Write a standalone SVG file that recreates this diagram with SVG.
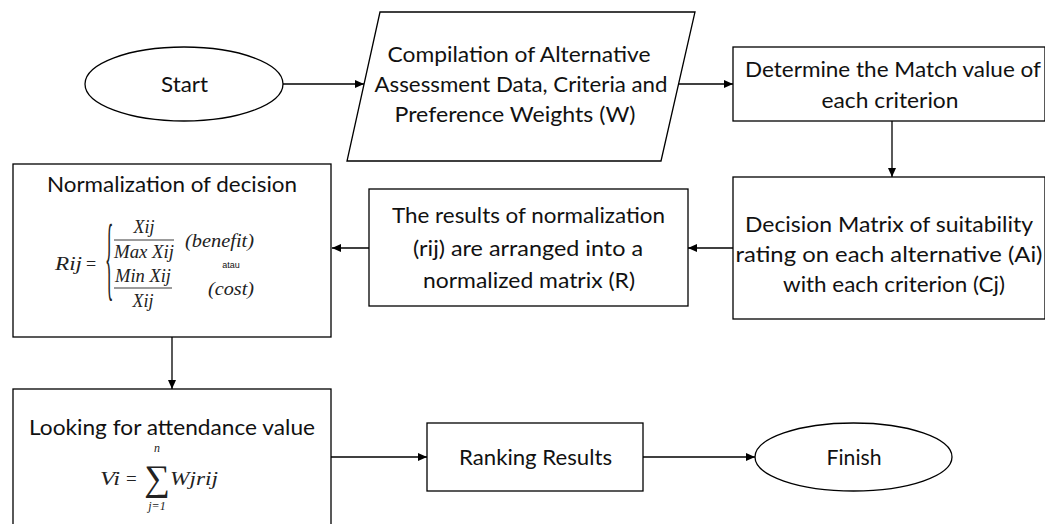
<svg xmlns="http://www.w3.org/2000/svg" width="1045" height="524" viewBox="0 0 1045 524">
<defs>
<marker id="arr" markerUnits="userSpaceOnUse" markerWidth="10" markerHeight="9" refX="9" refY="4" orient="auto">
<path d="M0,0 L9,4 L0,8 z" fill="#000"/>
</marker>
<style>
.shape{fill:#fff;stroke:#000;stroke-width:1.3}
.lbl{font-family:Lato,"Liberation Sans",sans-serif;font-size:22px;fill:#111;text-anchor:middle}
.m{font-family:"Liberation Serif","DejaVu Serif",serif;font-style:italic;font-size:18px;fill:#222}
.mu{font-family:"Liberation Serif","DejaVu Serif",serif;font-size:18px;fill:#222}
.fr{stroke:#222;stroke-width:0.9}
.conn path{fill:none;stroke:#000;stroke-width:1.3;marker-end:url(#arr)}
</style>
</defs>
<rect width="1045" height="524" fill="#fff"/>

<g id="start">
<ellipse class="shape" cx="184" cy="84" rx="99" ry="37"/>
<text class="lbl" x="184.5" y="92" textLength="47" lengthAdjust="spacingAndGlyphs">Start</text>
</g>

<g id="compilation">
<polygon class="shape" points="380,12 695,12 661,161 347,161"/>
<text class="lbl" x="519" y="62" textLength="263" lengthAdjust="spacingAndGlyphs">Compilation of Alternative</text>
<text class="lbl" x="521" y="92" textLength="293" lengthAdjust="spacingAndGlyphs">Assessment Data, Criteria and</text>
<text class="lbl" x="515" y="122" textLength="241" lengthAdjust="spacingAndGlyphs">Preference Weights (W)</text>
</g>

<g id="determine">
<rect class="shape" x="733" y="47" width="312" height="74"/>
<text class="lbl" x="893" y="77" textLength="296" lengthAdjust="spacingAndGlyphs">Determine the Match value of</text>
<text class="lbl" x="890" y="108" textLength="137" lengthAdjust="spacingAndGlyphs">each criterion</text>
</g>

<g id="decision">
<rect class="shape" x="733" y="177" width="312" height="142"/>
<text class="lbl" x="889" y="232" textLength="288" lengthAdjust="spacingAndGlyphs">Decision Matrix of suitability</text>
<text class="lbl" x="889" y="262" textLength="307" lengthAdjust="spacingAndGlyphs">rating on each alternative (Ai)</text>
<text class="lbl" x="894" y="292" textLength="222" lengthAdjust="spacingAndGlyphs">with each criterion (Cj)</text>
</g>

<g id="results">
<rect class="shape" x="369" y="189" width="319" height="117"/>
<text class="lbl" x="528.5" y="223" textLength="273" lengthAdjust="spacingAndGlyphs">The results of normalization</text>
<text class="lbl" x="528" y="256" textLength="230" lengthAdjust="spacingAndGlyphs">(rij) are arranged into a</text>
<text class="lbl" x="529" y="288" textLength="212" lengthAdjust="spacingAndGlyphs">normalized matrix (R)</text>
</g>

<g id="normalization">
<rect class="shape" x="13" y="164" width="318" height="173"/>
<text class="lbl" x="172" y="192" textLength="250" lengthAdjust="spacingAndGlyphs">Normalization of decision</text>
<text class="m" x="55" y="270" textLength="27" lengthAdjust="spacingAndGlyphs">Rij</text>
<text class="mu" x="86" y="270">=</text>
<text class="mu" transform="translate(105,289) scale(0.55,2.9)" style="font-size:32px">{</text>
<text class="m" x="144" y="233" text-anchor="middle">Xij</text>
<line class="fr" x1="114" y1="240" x2="174" y2="240"/>
<text class="m" x="114" y="258" textLength="60" lengthAdjust="spacingAndGlyphs">Max Xij</text>
<text class="m" x="185" y="247" textLength="69" lengthAdjust="spacingAndGlyphs">(benefit)</text>
<text x="231" y="268" style="font-family:'Liberation Sans',sans-serif;font-size:9px;fill:#111" text-anchor="middle">atau</text>
<text class="m" x="115" y="282" textLength="56" lengthAdjust="spacingAndGlyphs">Min Xij</text>
<line class="fr" x1="114" y1="288" x2="172" y2="288"/>
<text class="m" x="143" y="307" text-anchor="middle">Xij</text>
<text class="m" x="208" y="295" textLength="46" lengthAdjust="spacingAndGlyphs">(cost)</text>
</g>

<g id="looking">
<rect class="shape" x="13" y="389" width="318" height="145"/>
<text class="lbl" x="172" y="435" textLength="286" lengthAdjust="spacingAndGlyphs">Looking for attendance value</text>
<text class="m" x="100" y="485" style="font-size:19px" textLength="20" lengthAdjust="spacingAndGlyphs">Vi</text>
<text class="mu" x="126" y="485" style="font-size:19px">=</text>
<text class="mu" x="157" y="490" style="font-size:36px" text-anchor="middle">∑</text>
<text class="m" x="157" y="452" style="font-size:12px" text-anchor="middle">n</text>
<text class="m" x="157" y="510" style="font-size:12px" text-anchor="middle">j=1</text>
<text class="m" x="170" y="485" style="font-size:19px" textLength="48" lengthAdjust="spacingAndGlyphs">Wjrij</text>
</g>

<g id="ranking">
<rect class="shape" x="427" y="423" width="216" height="68"/>
<text class="lbl" x="535.5" y="465" textLength="153" lengthAdjust="spacingAndGlyphs">Ranking Results</text>
</g>

<g id="finish">
<ellipse class="shape" cx="853.5" cy="457" rx="98.5" ry="34"/>
<text class="lbl" x="854" y="465" textLength="55" lengthAdjust="spacingAndGlyphs">Finish</text>
</g>

<g id="connectors" class="conn">
<path d="M283,84 H364"/>
<path d="M679,84 H733"/>
<path d="M892,121 V177"/>
<path d="M733,248 H688"/>
<path d="M369,248 H332"/>
<path d="M172,337 V389"/>
<path d="M331,457 H427"/>
<path d="M643,457 H755"/>
</g>
</svg>
